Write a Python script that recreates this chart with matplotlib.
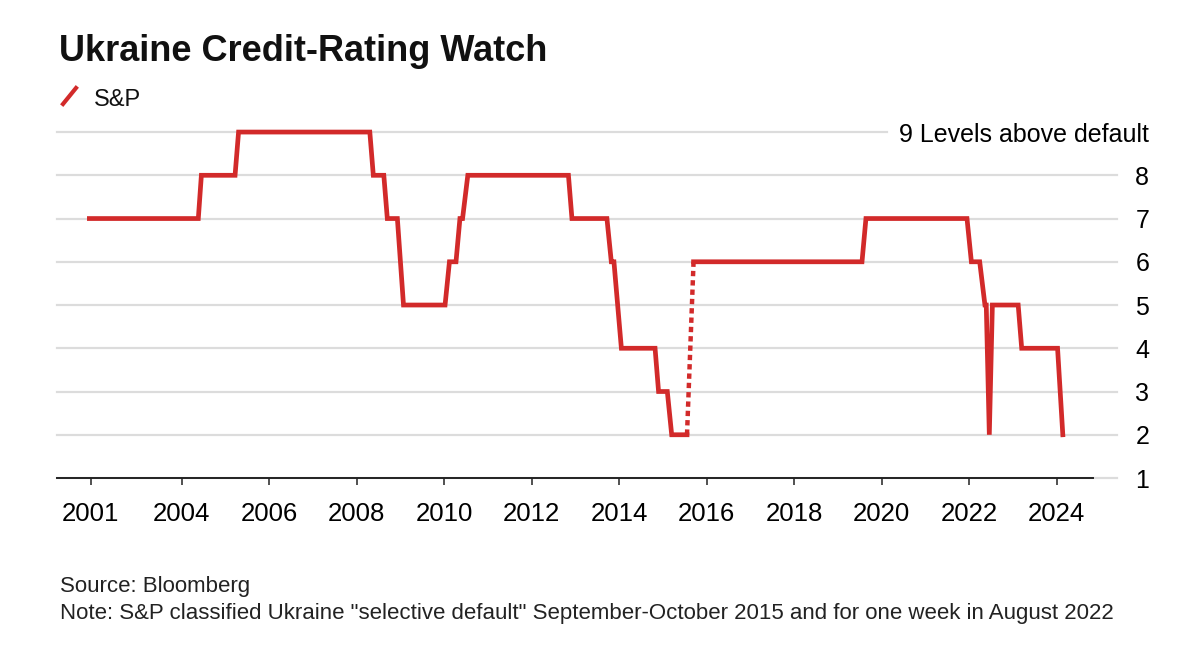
import matplotlib.pyplot as plt
from matplotlib.lines import Line2D

plt.rcParams['font.family'] = ['Liberation Sans', 'DejaVu Sans']

# S&P rating, levels above default (dates as fractional years)
dates_a = [2001.89, 2004.38, 2004.45, 2005.22, 2005.30, 2008.30, 2008.38, 2008.62,
           2008.70, 2008.93, 2009.07, 2010.02, 2010.12, 2010.27, 2010.36, 2010.42,
           2010.54, 2012.84, 2012.92, 2013.72, 2013.82, 2013.88, 2014.05, 2014.82,
           2014.90, 2015.10, 2015.20, 2015.55]
levels_a = [7, 7, 8, 8, 9, 9, 8, 8,
            7, 7, 5, 5, 6, 6, 7, 7,
            8, 8, 7, 7, 6, 6, 4, 4,
            3, 3, 2, 2]
# selective default Sep-Oct 2015 (dotted)
dates_sd = [2015.55, 2015.70]
levels_sd = [2, 6]
dates_b = [2015.70, 2019.55, 2019.64, 2021.95, 2022.05, 2022.24, 2022.36, 2022.39,
           2022.46, 2022.53, 2023.12, 2023.20, 2024.02, 2024.14]
levels_b = [6, 6, 7, 7, 6, 6, 5, 5,
            2, 5, 5, 4, 4, 2]

xticks = [2001.92, 2004, 2006, 2008, 2010, 2012, 2014, 2016, 2018, 2020, 2022, 2024]
xticklabels = ['2001', '2004', '2006', '2008', '2010', '2012', '2014', '2016',
               '2018', '2020', '2022', '2024']
yticks = [1, 2, 3, 4, 5, 6, 7, 8, 9]
yticklabels = ['1', '2', '3', '4', '5', '6', '7', '8', '9 Levels above default']

red = '#d22a2a'
W, H = 1200, 651
fig = plt.figure(figsize=(12, 6.51), dpi=100)
ax = fig.add_axes([57 / W, 1 - 478 / H, (1093 - 57) / W, (478 - 123.4) / H])
ax.set_xlim(2001.15, 2024.83)
ax.set_ylim(1, 9.2)

# gridlines, extending a bit past the axis on the right
for y in yticks:
    xmax = 0.801 if y == 9 else 1.023
    ax.axhline(y, xmin=0, xmax=xmax, color='#dcdcdc', lw=1.6, clip_on=False, zorder=0)

ax.plot(dates_a, levels_a, color=red, lw=3.4, solid_joinstyle='miter', zorder=3)
ax.plot(dates_sd, levels_sd, color=red, lw=3.2, linestyle=(0, (1.2, 0.9)), zorder=3)
ax.plot(dates_b, levels_b, color=red, lw=3.4, solid_joinstyle='miter', zorder=3)

for s in ['top', 'left', 'right']:
    ax.spines[s].set_visible(False)
ax.spines['bottom'].set_color('#222222')
ax.spines['bottom'].set_linewidth(1.4)
ax.spines['bottom'].set_zorder(4)

ax.set_xticks(xticks)
ax.set_xticklabels(xticklabels, fontsize=18.5)
ax.tick_params(axis='x', length=5, width=1.2, color='#333333', pad=12)

ax.yaxis.tick_right()
ax.set_yticks(yticks)
ax.set_yticklabels(yticklabels, fontsize=18)
ax.tick_params(axis='y', length=0, pad=40.5)
for lab in ax.get_yticklabels():
    lab.set_horizontalalignment('right')

# title, legend and notes
fig.text(59 / W, 1 - 61 / H, 'Ukraine Credit-Rating Watch', fontsize=26,
         fontweight='bold', color='#111111', va='baseline')
fig.add_artist(Line2D([63 / W, 76 / W], [1 - 104 / H, 1 - 88 / H], color=red, lw=3))
fig.text(94 / W, 1 - 106 / H, 'S&P', fontsize=17, color='#111111', va='baseline')
fig.text(60 / W, 1 - 592 / H, 'Source: Bloomberg', fontsize=16, color='#222222',
         va='baseline')
fig.text(60 / W, 1 - 619 / H,
         'Note: S&P classified Ukraine "selective default" September-October 2015 '
         'and for one week in August 2022', fontsize=16, color='#222222',
         va='baseline')

plt.savefig('out.png', dpi=100)
